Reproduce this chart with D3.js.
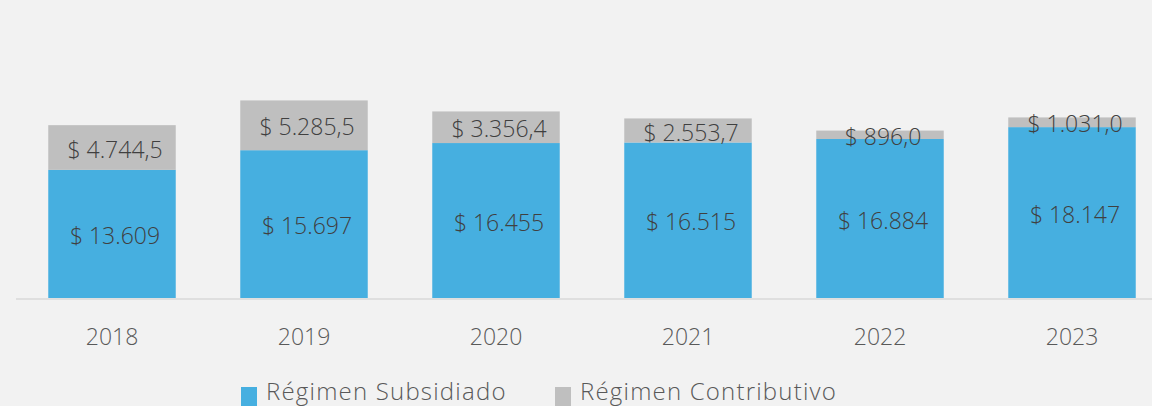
<!DOCTYPE html>
<html>
<head>
<meta charset="utf-8">
<script src="https://cdn.jsdelivr.net/npm/d3@7"></script>
<style>
  html, body { margin: 0; padding: 0; background: #f2f2f2; }
  svg { display: block; font-family: "Open Sans", sans-serif; font-weight: 300; }
</style>
</head>
<body>
<div id="chart"></div>
<script>
const years = ["2018", "2019", "2020", "2021", "2022", "2023"]
const subsidiado = [13609, 15697, 16455, 16515, 16884, 18147]
const contributivo = [4744.5, 5285.5, 3356.4, 2553.7, 896.0, 1031.0]
const subsidiadoLabels = ["$ 13.609", "$ 15.697", "$ 16.455", "$ 16.515", "$ 16.884", "$ 18.147"]
const contributivoLabels = ["$ 4.744,5", "$ 5.285,5", "$ 3.356,4", "$ 2.553,7", "$ 896,0", "$ 1.031,0"]
const seriesNames = ["Régimen Subsidiado", "Régimen Contributivo"]
const colors = ["#46afe0", "#bfbfbf"]

let width = 1152,
    height = 406

let svg = d3.select("#chart").append("svg")
    .attr("width", width)
    .attr("height", height)

svg.append("rect")
    .attr("width", width)
    .attr("height", height)
    .attr("fill", "#f2f2f2")

let x = d3.scaleBand()
    .domain(years)
    .range([16, 1168])
    .paddingInner(0.336)
    .paddingOuter(0.168)

let y = d3.scaleLinear()
    .domain([0, 30000])
    .range([298, 15.5])

let rows = years.map((yr, i) => ({
    year: yr,
    sub: subsidiado[i],
    con: contributivo[i],
    subLabel: subsidiadoLabels[i],
    conLabel: contributivoLabels[i]
}))

let stack = d3.stack().keys(["sub", "con"])(rows)

let layers = svg.append("g")
    .selectAll("g")
    .data(stack)
    .join("g")
    .attr("fill", (d, i) => colors[i])

layers.selectAll("rect")
    .data(d => d)
    .join("rect")
    .attr("x", d => x(d.data.year))
    .attr("width", x.bandwidth())
    .attr("y", d => y(d[1]))
    .attr("height", d => y(d[0]) - y(d[1]))

// axis line
svg.append("line")
    .attr("x1", 16)
    .attr("x2", width)
    .attr("y1", 299)
    .attr("y2", 299)
    .attr("stroke", "#d9d9d9")
    .attr("stroke-width", 1.5)

// value labels, centred in each segment
let labels = svg.append("g")
    .attr("font-size", 23)
    .attr("fill", "#404040")
    .attr("text-anchor", "middle")

stack.forEach((layer, li) => {
    labels.selectAll(null)
        .data(layer)
        .join("text")
        .attr("x", d => x(d.data.year) + x.bandwidth() / 2 + 3)
        .attr("y", d => (y(d[0]) + y(d[1])) / 2 + 2)
        .attr("dy", "0.35em")
        .text(d => li == 0 ? d.data.subLabel : d.data.conLabel)
})

// x axis labels
let xAxis = svg.append("g")
    .attr("transform", "translate(0,299)")
    .call(d3.axisBottom(x).tickSize(0).tickPadding(0))

xAxis.select(".domain").remove()
xAxis.selectAll("text")
    .attr("font-family", "Open Sans, sans-serif")
    .attr("font-weight", 300)
    .attr("font-size", 23)
    .attr("fill", "#595959")
    .attr("dy", "1.98em")

// legend
let legendX = [241, 555]
let legend = svg.append("g")
    .selectAll("g")
    .data(seriesNames)
    .join("g")
    .attr("transform", (d, i) => "translate(" + legendX[i] + ",387)")

legend.append("rect")
    .attr("width", 16)
    .attr("height", 19)
    .attr("fill", (d, i) => colors[i])

legend.append("text")
    .attr("x", 25)
    .attr("y", 13)
    .attr("font-size", 24)
    .attr("letter-spacing", 1.2)
    .attr("fill", "#595959")
    .text(d => d)
</script>
</body>
</html>
